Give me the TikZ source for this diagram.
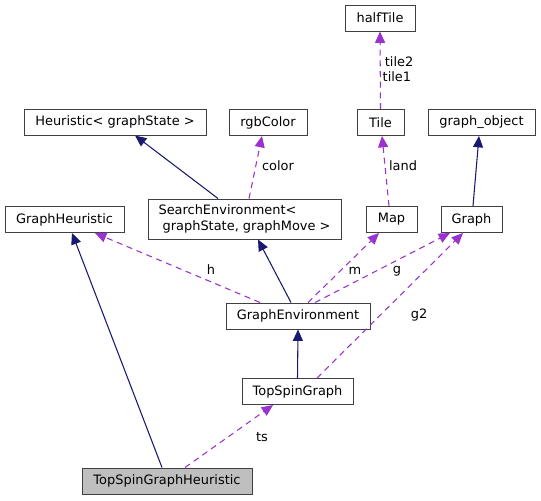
\documentclass[tikz,border=0pt]{standalone}
\usepackage{fontspec}
\setmainfont{DejaVu Sans}
\usepackage{tikz}
\usetikzlibrary{arrows.meta,calc}
\definecolor{edgeblue}{HTML}{191970}
\definecolor{edgepurple}{HTML}{9A32CD}
\definecolor{boxline}{HTML}{404040}
\definecolor{boxgray}{HTML}{BFBFBF}

\begin{document}
\begin{tikzpicture}[
		x=0.75pt, y=-0.75pt,
		>={Triangle[length=8.5pt,width=7.5pt]},
		font=\fontsize{9.7}{12}\selectfont,
		cls/.style={
			rectangle,
			draw=boxline,
			line width=0.75pt,
			fill=white,
			inner sep=0pt,
			text centered,
			minimum height=19.5pt,
			minimum width=#1*0.75pt
		},
		inherit/.style={
			->,
			draw=edgeblue,
			line width=0.8pt
		},
		usage/.style={
			->,
			draw=edgepurple,
			line width=0.8pt,
			dash pattern=on 4.5pt off 3.5pt
		},
		lbl/.style={
			inner sep=0pt,
			align=left,
			font=\fontsize{9.7}{11.3}\selectfont
		}
		]
		\useasboundingbox (0,0) rectangle (541,500);
		
		% We start by placing the blocks
		\node [cls=70] (halftile) at (380,18) {halfTile};
		\node [cls=47] (tile) at (380.5,122.5) {Tile};
		\node [cls=107] (graphobj) at (481.5,122.5) {graph\_object};
		\node [cls=182] (heur) at (115,122) {Heuristic< graphState >};
		\node [cls=78] (rgb) at (268,122.5) {rgbColor};
		
		\node [cls=119] (gheur) at (64.5,219.5) {GraphHeuristic};
		\node [cls=193, minimum height=30pt, align=left] (senv) at (244.5,219)
		{SearchEnvironment<\\\ graphState, graphMove >};
		\node [cls=51] (map) at (391.5,219.5) {Map};
		\node [cls=61] (graph) at (471.5,219.5) {Graph};
		
		\node [cls=144] (genv) at (298,316) {GraphEnvironment};
		\node [cls=111] (tsg) at (297.5,391.5) {TopSpinGraph};
		\node [cls=170, fill=boxgray] (tsgh) at (167,481) {TopSpinGraphHeuristic};
		
		% inheritance
		\draw [inherit] ($(tsgh.north)+(-5,0)$) -- ($(gheur.south)+(7.5,0)$);
		\draw [inherit] (tsg.north) -- (genv.south);
		\draw [inherit] ($(genv.north)+(-7,0)$) -- ($(senv.south)+(13.5,0)$);
		\draw [inherit] ($(senv.north)+(-26.5,0)$) -- ($(heur.south)+(20,0)$);
		\draw [inherit] ($(graph.north)+(1.5,0)$) -- ($(graphobj.south)+(-2.5,0)$);
		
		% members
		\draw [usage] ($(tsgh.north)+(18,0)$) -- ($(tsg.south)+(-24.5,0)$)
			node [lbl] at (262,437) {ts};
		\draw [usage] ($(tsg.north)+(19.5,0)$) -- ($(graph.south)+(-8.5,0)$)
			node [lbl] at (419,315) {g2};
		\draw [usage] ($(genv.north)+(-38,0)$) -- ($(gheur.south)+(30.5,0)$)
			node [lbl] at (211,270) {h};
		\draw [usage] ($(genv.north)+(10,0)$) -- ($(map.south)+(-12.5,0)$)
			node [lbl] at (355,271) {m};
		\draw [usage] ($(genv.north)+(17,0)$) -- ($(graph.south)+(-21.5,0)$)
			node [lbl] at (397,271) {g};
		\draw [usage] ($(senv.north)+(4.5,0)$) -- ($(rgb.south)+(-6,0)$)
			node [lbl] at (278,166) {color};
		\draw [usage] ($(map.north)+(-2.5,0)$) -- ($(tile.south)+(1.5,0)$)
			node [lbl] at (403,166) {land};
		\draw [usage] (tile.north) -- (halftile.south)
			node [lbl] at (398,69.5) {\,tile2\\tile1};
		
\end{tikzpicture}
\end{document}
